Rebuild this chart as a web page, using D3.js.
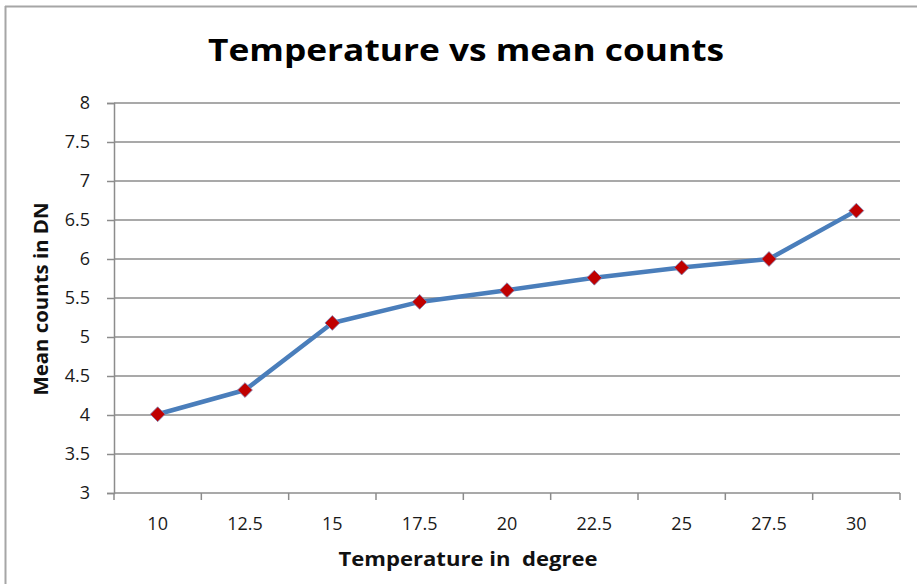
<!DOCTYPE html>
<html>
<head>
<meta charset="utf-8">
<script src="https://cdn.jsdelivr.net/npm/d3@7"></script>
<style>
  html, body { margin: 0; padding: 0; background: #fff; }
  svg { display: block; }
  text { font-family: "Open Sans", "Liberation Sans", sans-serif; }
</style>
</head>
<body>
<svg id="chart" width="917" height="584"></svg>
<script>
// Temperature (°) categories and mean counts in DN
const temperatures = ["10", "12.5", "15", "17.5", "20", "22.5", "25", "27.5", "30"];
const meanCounts = [4.01, 4.32, 5.18, 5.45, 5.60, 5.76, 5.89, 6.00, 6.62];
const yTicks = [3, 3.5, 4, 4.5, 5, 5.5, 6, 6.5, 7, 7.5, 8];

const chartTitle = "Temperature vs mean counts";
const xTitle = "Temperature in  degree";
const yTitle = "Mean counts in DN";

const svg = d3.select("#chart");
const plot = { left: 114, right: 900, top: 103, bottom: 493 };

// Outer chart frame (left and top edges visible)
svg.append("line").attr("x1", 5).attr("x2", 917).attr("y1", 6.5).attr("y2", 6.5)
  .attr("stroke", "#a6a6a6").attr("stroke-width", 2);
svg.append("line").attr("x1", 5.5).attr("x2", 5.5).attr("y1", 6).attr("y2", 584)
  .attr("stroke", "#a6a6a6").attr("stroke-width", 2);

const x = d3.scaleBand().domain(temperatures).range([plot.left, plot.right]);
const y = d3.scaleLinear().domain([3, 8]).range([plot.bottom, plot.top]);

// Horizontal gridlines
svg.append("g").selectAll("line").data(yTicks.slice(1)).join("line")
  .attr("x1", plot.left).attr("x2", plot.right)
  .attr("y1", d => y(d)).attr("y2", d => y(d))
  .attr("stroke", "#8c8c8c").attr("stroke-width", 1.5);

// Y axis
const yAxis = svg.append("g").attr("transform", `translate(${plot.left},0)`)
  .call(d3.axisLeft(y).tickValues(yTicks).tickSize(7).tickPadding(17)
    .tickFormat(d => String(d)));
yAxis.select(".domain").attr("stroke", "#8c8c8c").attr("stroke-width", 1.5);
yAxis.selectAll(".tick line").attr("stroke", "#8c8c8c").attr("stroke-width", 1.5);
yAxis.selectAll(".tick text").attr("font-size", 18).attr("fill", "#1a1a1a")
  .style("font-family", "'Open Sans', sans-serif");

// X axis: ticks sit on the category boundaries, labels on the centres
const xAxisG = svg.append("g").attr("transform", `translate(0,${plot.bottom})`);
xAxisG.append("line").attr("x1", plot.left).attr("x2", plot.right)
  .attr("y1", 0).attr("y2", 0).attr("stroke", "#8c8c8c").attr("stroke-width", 1.5);
const boundaries = temperatures.map(t => x(t)).concat([plot.right]);
xAxisG.selectAll("line.tick").data(boundaries).join("line").attr("class", "tick")
  .attr("x1", d => d).attr("x2", d => d).attr("y1", 0).attr("y2", 7)
  .attr("stroke", "#8c8c8c").attr("stroke-width", 1.5);
xAxisG.selectAll("text").data(temperatures).join("text")
  .attr("x", d => x(d) + x.bandwidth() / 2).attr("y", 37)
  .attr("text-anchor", "middle").attr("font-size", 18).attr("fill", "#1a1a1a")
  .text(d => d);

// Series line
const pts = temperatures.map((t, i) => [x(t) + x.bandwidth() / 2, y(meanCounts[i])]);
svg.append("path").datum(pts)
  .attr("d", d3.line())
  .attr("fill", "none").attr("stroke", "#4a7ebb").attr("stroke-width", 4.5)
  .attr("stroke-linejoin", "round").attr("stroke-linecap", "round");

// Diamond markers
svg.append("g").selectAll("path").data(pts).join("path")
  .attr("transform", d => `translate(${d[0]},${d[1]})`)
  .attr("d", d3.symbol(d3.symbolDiamond2, 140)())
  .attr("fill", "#c00000").attr("stroke", "#7d86b8").attr("stroke-width", 0.8);

// Titles
svg.append("text").attr("x", 466).attr("y", 61).attr("text-anchor", "middle")
  .attr("font-size", 31).attr("font-weight", "bold").attr("fill", "#000")
  .attr("textLength", 516).attr("lengthAdjust", "spacingAndGlyphs")
  .text(chartTitle);

svg.append("text").attr("x", 468).attr("y", 566).attr("text-anchor", "middle")
  .attr("font-size", 19).attr("font-weight", "bold").attr("fill", "#111")
  .attr("textLength", 259).attr("lengthAdjust", "spacingAndGlyphs")
  .style("white-space", "pre")
  .text(xTitle);

svg.append("text").attr("transform", "translate(48,299) rotate(-90)")
  .attr("text-anchor", "middle")
  .attr("font-size", 19).attr("font-weight", "bold").attr("fill", "#111")
  .attr("textLength", 193).attr("lengthAdjust", "spacingAndGlyphs")
  .text(yTitle);
</script>
</body>
</html>
